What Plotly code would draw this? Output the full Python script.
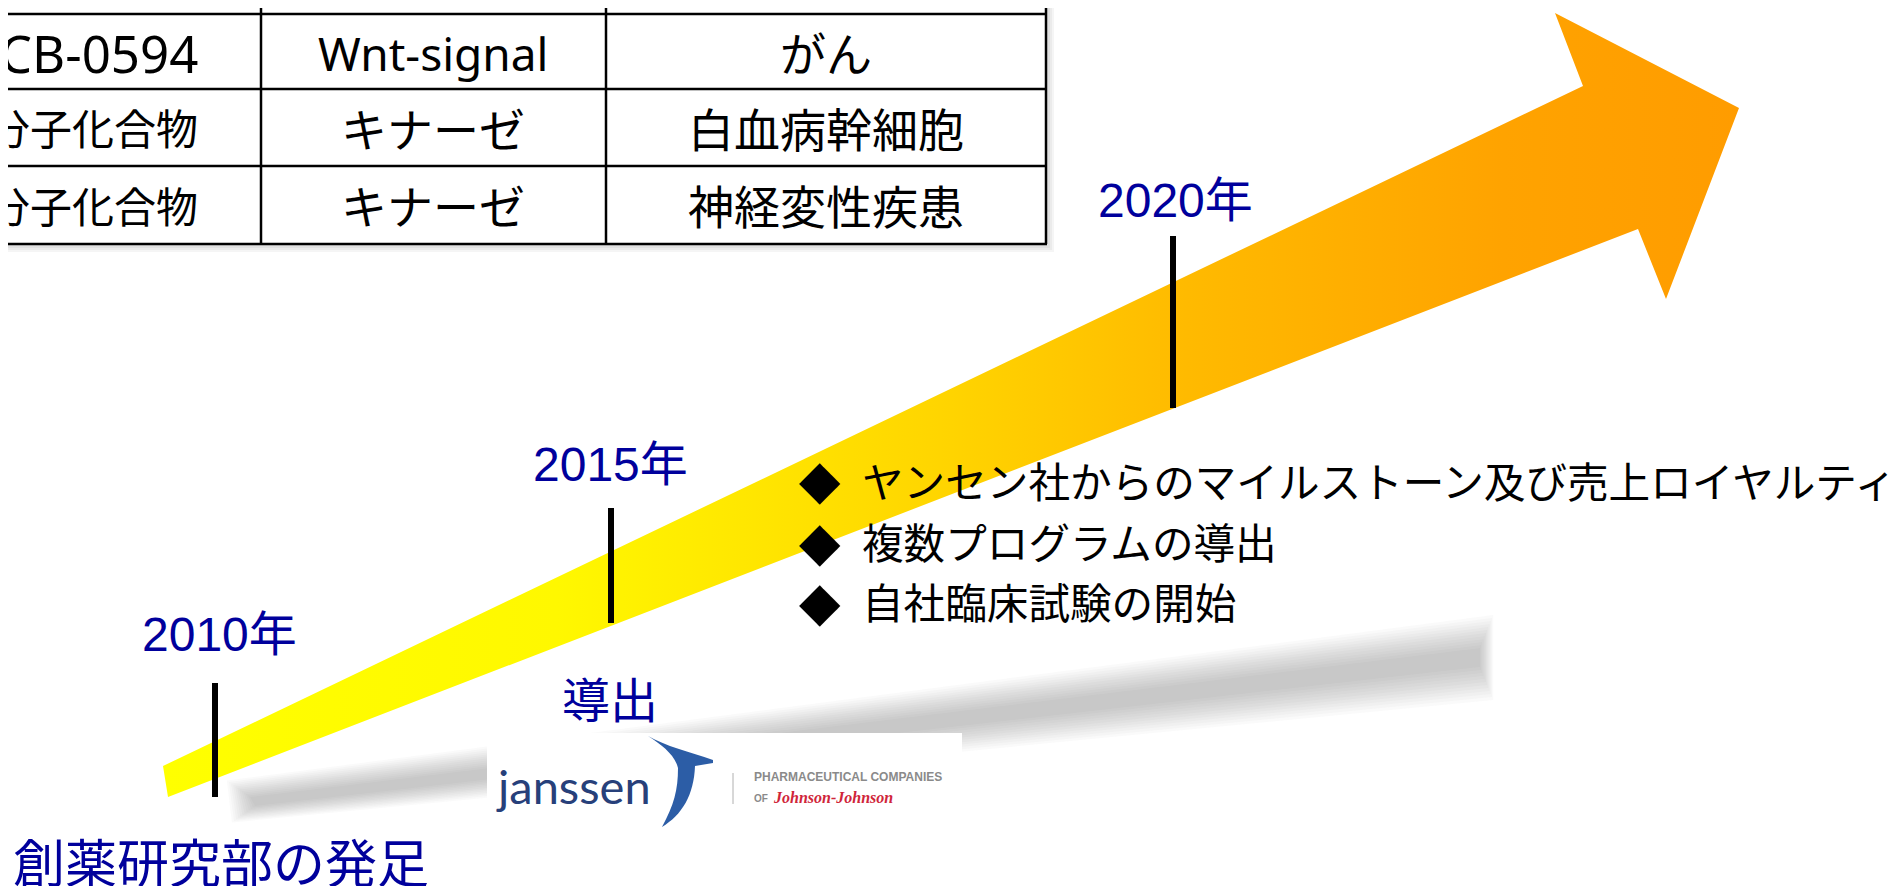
import plotly.graph_objects as go

W, H = 1903, 886
OFF = 8  # the page body adds an 8px margin; shift the drawing space to cancel it

# ---- data ----
years = ["2010年", "2015年", "2020年"]
year_label_xy = [(219, 634), (610, 464), (1175, 200)]
year_ticks = [(215, 683, 797), (611, 508, 623), (1173, 236, 408)]

milestone_texts = ["創薬研究部の発足", "導出"]
bullet_items = [
    "ヤンセン社からのマイルストーン及び売上ロイヤルティ",
    "複数プログラムの導出",
    "自社臨床試験の開始",
]

table_rows = [
    ["PRI-724", "Wnt-signal", "がん"],
    ["PCB-0594", "Wnt-signal", "がん"],
    ["低分子化合物", "キナーゼ", "白血病幹細胞"],
    ["低分子化合物", "キナーゼ", "神経変性疾患"],
]

# arrow outline (pixel space): tail -> head -> back
arrow_x = [163, 1583, 1555, 1739, 1666, 1638, 168, 163]
arrow_y = [766, 86, 13, 108, 299, 229, 797, 766]

NAVY = "#00009C"
JP = "Noto Sans CJK JP"


def px(x):
    return (x - OFF) / W


def py(y):
    return 1 - (y - OFF) / H


fig = go.Figure()

# soft shadow under the arrow (stacked translucent bands)
for k in range(12):
    e = k * 3
    sx = [250 - e * 0.7, 1480 + e * 0.4, 1480 + e * 0.4, 255 - e * 0.7, 250 - e * 0.7]
    sy = [797 - e * 0.5, 648 - e, 667 + e, 806 + e * 0.5, 797 - e * 0.5]
    fig.add_trace(go.Scatter(
        x=sx, y=sy, mode="lines", fill="toself", line=dict(width=0),
        fillcolor="rgba(100,100,100,0.032)", hoverinfo="skip", showlegend=False,
    ))

# the gradient arrow
fig.add_trace(go.Scatter(
    x=arrow_x, y=arrow_y, mode="lines", fill="toself", line=dict(width=0),
    fillgradient=dict(
        type="horizontal",
        colorscale=[
            [0.0, "#FFFF00"], [0.25, "#FFF800"], [0.5, "#FFD400"],
            [0.65, "#FFBA00"], [0.85, "#FFA300"], [1.0, "#FF9C00"],
        ],
    ),
    hoverinfo="skip", showlegend=False,
))

shapes = []

# year tick marks
for x, y0, y1 in year_ticks:
    shapes.append(dict(type="line", x0=x, x1=x, y0=y0, y1=y1,
                       line=dict(color="black", width=6), layer="above"))

# table: shadow, then grid
col_x = [261, 606, 1046]
row_y = [14, 89, 166, 244]
for k in range(1, 4):
    shapes.append(dict(type="rect", x0=-10, x1=col_x[-1] + 2 + k * 2, y0=-10,
                       y1=row_y[-1] + 2 + k * 2, fillcolor="rgba(0,0,0,0.04)",
                       line=dict(width=0), layer="below"))
shapes.append(dict(type="rect", x0=-10, x1=col_x[-1], y0=-10, y1=row_y[-1],
                   fillcolor="white", line=dict(width=0), layer="below"))
for y in row_y:
    shapes.append(dict(type="line", x0=-10, x1=col_x[-1] + 1, y0=y, y1=y,
                       line=dict(color="black", width=2.5), layer="above"))
for x in col_x:
    shapes.append(dict(type="line", x0=x, x1=x, y0=-10, y1=row_y[-1],
                       line=dict(color="black", width=2.5), layer="above"))

# janssen logo box
shapes.append(dict(type="rect", x0=487, x1=962, y0=733, y1=836,
                   fillcolor="white", line=dict(width=0), layer="above"))
# swoosh of the logo
shapes.append(dict(
    type="path",
    path=("M 648,736 C 665,746 690,752 713,760 L 713,763 L 695,766 "
          "C 694,795 682,815 662,827 C 674,805 678,790 678,768 "
          "C 675,755 662,745 648,736 Z"),
    fillcolor="#2C5DA6", line=dict(width=0), layer="above",
))
shapes.append(dict(type="line", x0=733, x1=733, y0=773, y1=804,
                   line=dict(color="#B0B0B0", width=1), layer="above"))

annotations = []

for txt, (x, y) in zip(years, year_label_xy):
    annotations.append(dict(text=txt, x=px(x), y=py(y), font=dict(size=48, color=NAVY,
                            family="Liberation Sans, " + JP)))

annotations.append(dict(text=milestone_texts[0], x=px(221), y=py(860),
                        font=dict(size=52, color=NAVY, family=JP)))
annotations.append(dict(text=milestone_texts[1], x=px(610), y=py(697),
                        font=dict(size=48, color=NAVY, family=JP)))

bullet_y = [480, 541, 601]
for txt, y in zip(bullet_items, bullet_y):
    annotations.append(dict(text="◆", x=px(820), y=py(y),
                            font=dict(size=54, color="black", family="DejaVu Sans")))
    annotations.append(dict(text=txt, x=px(860), y=py(y), xanchor="left",
                            font=dict(size=41.6, color="black", family=JP)))

# table cells
row_centres = [-22, 53, 129, 206]
col_centres = [None, 433, 826]
first_col_size = [46, 51, 42, 42]
for row, yc, fs in zip(table_rows, row_centres, first_col_size):
    annotations.append(dict(text=row[0], x=px(200), y=py(yc), xanchor="right",
                            font=dict(size=fs, color="black", family="Noto Sans, " + JP)))
    for txt, xc in zip(row[1:], col_centres[1:]):
        annotations.append(dict(text=txt, x=px(xc), y=py(yc),
                                font=dict(size=46, color="black", family="Noto Sans, " + JP)))

# logo texts
annotations.append(dict(text="janssen", x=px(573), y=py(786),
                        font=dict(size=47, color="#27407A", family="Lato")))
annotations.append(dict(text="<b>PHARMACEUTICAL COMPANIES</b>", x=px(752), y=py(777),
                        xanchor="left", font=dict(size=12, color="#8A8A8A",
                                                  family="Liberation Sans")))
annotations.append(dict(text="<b>OF</b>", x=px(752), y=py(798), xanchor="left",
                        font=dict(size=10, color="#8A8A8A", family="Liberation Sans")))
annotations.append(dict(text="<b><i>Johnson-Johnson</i></b>", x=px(771), y=py(797),
                        xanchor="left", font=dict(size=16, color="#D0253A",
                                                  family="Liberation Serif")))

for a in annotations:
    a.setdefault("xref", "paper")
    a.setdefault("yref", "paper")
    a.setdefault("showarrow", False)
    a.setdefault("xanchor", "center")
    a.setdefault("yanchor", "middle")

fig.update_layout(
    width=W, height=H,
    margin=dict(l=0, r=0, t=0, b=0),
    paper_bgcolor="white", plot_bgcolor="white",
    xaxis=dict(range=[OFF, W + OFF], visible=False, fixedrange=True),
    yaxis=dict(range=[H + OFF, OFF], visible=False, fixedrange=True),
    shapes=shapes, annotations=annotations,
    showlegend=False,
)

fig.write_html("out.html", config={"displayModeBar": False})
